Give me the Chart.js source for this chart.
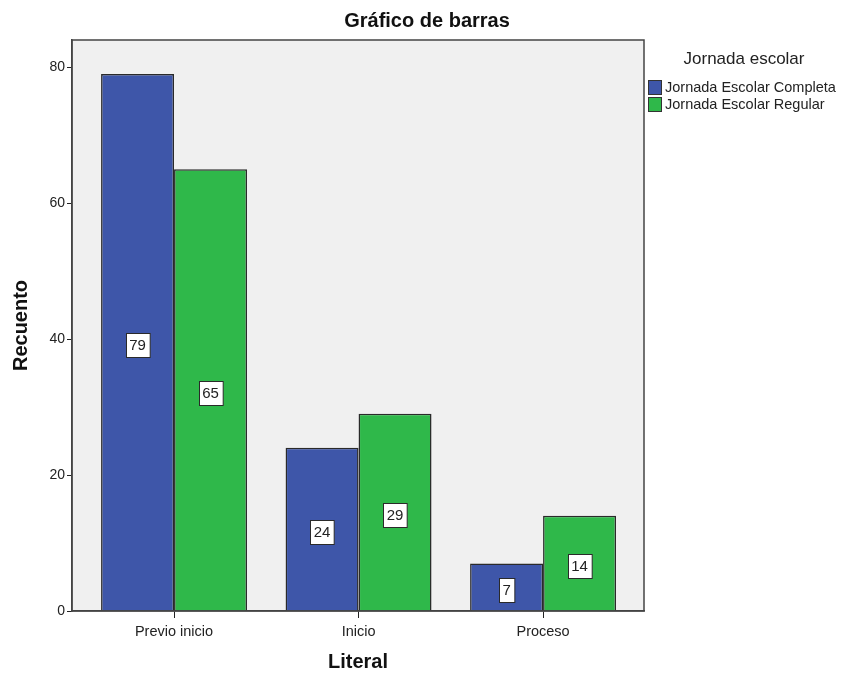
<!DOCTYPE html>
<html>
  <head>
    <meta charset="utf-8" />
    <script src="https://cdn.jsdelivr.net/npm/chart.js@4"></script>
    <style>
      body { margin: 0; background: #ffffff; }
      #wrap { width: 842px; height: 675px; }
    </style>
  </head>
  <body>
    <div id="wrap"><canvas id="bars" width="842" height="675"></canvas></div>
    <script>
      var title = "Gráfico de barras";
      var legendTitle = "Jornada escolar";
      var xTitle = "Literal";
      var yTitle = "Recuento";
      var categories = ["Previo inicio", "Inicio", "Proceso"];
      var seriesNames = ["Jornada Escolar Completa", "Jornada Escolar Regular"];
      var completa = [79, 24, 7];
      var regular = [65, 29, 14];
      var yTicks = [0, 20, 40, 60, 80];
      var colour_list = ["#3e56a9", "#2fb84a"];

      var font = "'Liberation Sans', Arial, sans-serif";

      function toPoints(arr) {
        return arr.map(function (v, i) { return { x: i, y: v }; });
      }

      // background + frame of the plot area
      var framePlugin = {
        id: "frame",
        beforeDraw: function (chart) {
          var a = chart.chartArea, ctx = chart.ctx;
          ctx.save();
          ctx.fillStyle = "#f0f0f0";
          ctx.fillRect(a.left, a.top, a.right - a.left, a.bottom - a.top);
          ctx.restore();
        },
        afterDraw: function (chart) {
          var a = chart.chartArea, ctx = chart.ctx;
          ctx.save();
          ctx.strokeStyle = "#444";
          ctx.lineWidth = 1.5;
          ctx.strokeRect(a.left, a.top, a.right - a.left, a.bottom - a.top);

          // title
          ctx.fillStyle = "#111";
          ctx.font = "bold 20px " + font;
          ctx.textAlign = "center";
          ctx.textBaseline = "middle";
          ctx.fillText(title, 427, 21);

          // legend
          ctx.font = "17px " + font;
          ctx.fillStyle = "#222";
          ctx.fillText(legendTitle, 744, 59);
          ctx.font = "14.5px " + font;
          ctx.textAlign = "left";
          chart.data.datasets.forEach(function (ds, i) {
            var y = 80 + i * 17;
            ctx.fillStyle = ds.backgroundColor;
            ctx.fillRect(648, y, 14, 15);
            ctx.strokeStyle = "#333";
            ctx.lineWidth = 1;
            ctx.strokeRect(648.5, y + 0.5, 13, 14);
            ctx.fillStyle = "#222";
            ctx.fillText(ds.label, 665, y + 8);
          });
          ctx.restore();
        },
      };

      // white value boxes in the middle of each bar
      var valueLabels = {
        id: "valueLabels",
        afterDatasetsDraw: function (chart) {
          var ctx = chart.ctx;
          ctx.save();
          ctx.font = "15px " + font;
          ctx.textAlign = "center";
          ctx.textBaseline = "middle";
          chart.data.datasets.forEach(function (ds, di) {
            chart.getDatasetMeta(di).data.forEach(function (el, i) {
              var txt = String(ds.data[i].y);
              var w = ctx.measureText(txt).width + 7;
              var h = 24;
              var cy = (el.y + el.base) / 2 + 3;
              var x0 = Math.round(el.x - w / 2) + 0.5;
              var y0 = Math.round(cy - h / 2) + 0.5;
              ctx.fillStyle = "#ffffff";
              ctx.fillRect(x0, y0, w, h);
              ctx.strokeStyle = "#2a2a2a";
              ctx.lineWidth = 1;
              ctx.strokeRect(x0, y0, w, h);
              ctx.fillStyle = "#222";
              ctx.fillText(txt, el.x, cy + 1);
            });
          });
          ctx.restore();
        },
      };

      var ctx = document.getElementById("bars").getContext("2d");
      var chart = new Chart(ctx, {
        type: "bar",
        data: {
          datasets: [
            {
              label: seriesNames[0],
              data: toPoints(completa),
              backgroundColor: colour_list[0],
              borderColor: "#2a2a2a",
              borderWidth: 1.5,
            },
            {
              label: seriesNames[1],
              data: toPoints(regular),
              backgroundColor: colour_list[1],
              borderColor: "#2a2a2a",
              borderWidth: 1.5,
            },
          ],
        },
        options: {
          responsive: false,
          animation: false,
          categoryPercentage: 0.791,
          barPercentage: 1,
          layout: { padding: { top: 40, right: 198, left: 0, bottom: 0 } },
          scales: {
            x: {
              type: "linear",
              min: -0.553,
              max: 2.547,
              offset: false,
              afterBuildTicks: function (s) {
                s.ticks = categories.map(function (c, i) { return { value: i }; });
              },
              afterFit: function (s) { s.height = 64; },
              ticks: {
                callback: function (v) { return categories[v]; },
                color: "#222",
                padding: 5,
                font: { family: font, size: 14.5 },
                maxRotation: 0,
                autoSkip: false,
              },
              grid: {
                offset: false,
                drawOnChartArea: false,
                tickLength: 7,
                color: "#222",
              },
              border: { color: "#444", width: 1.5 },
              title: {
                display: true,
                text: xTitle,
                color: "#111",
                padding: { top: 0, bottom: 1 },
                font: { family: font, size: 20, weight: "bold" },
              },
            },
            y: {
              min: 0,
              max: 84,
              afterBuildTicks: function (s) {
                s.ticks = yTicks.map(function (v) { return { value: v }; });
              },
              afterFit: function (s) { s.width = 72; },
              ticks: {
                color: "#222",
                padding: 2,
                font: { family: font, size: 14 },
              },
              grid: {
                drawOnChartArea: false,
                tickLength: 5,
                color: "#222",
              },
              border: { color: "#444", width: 1.5 },
              title: {
                display: true,
                text: yTitle,
                color: "#111",
                padding: { top: 9, bottom: 0 },
                font: { family: font, size: 20, weight: "bold" },
              },
            },
          },
          plugins: {
            legend: { display: false },
            tooltip: { enabled: false },
          },
        },
        plugins: [framePlugin, valueLabels],
      });
    </script>
  </body>
</html>
